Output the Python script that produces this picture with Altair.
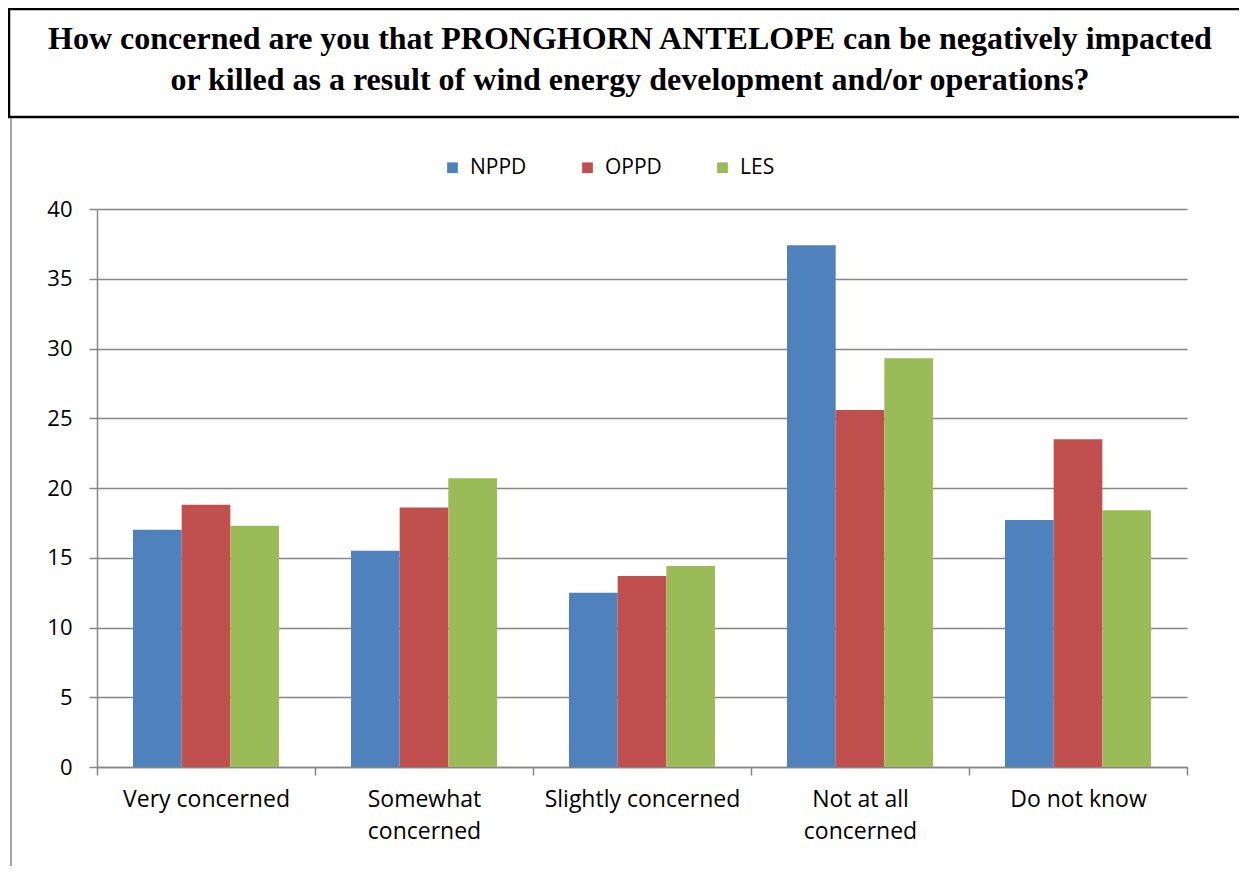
import altair as alt
import pandas as pd

categories = ["Very concerned", "Somewhat concerned", "Slightly concerned",
              "Not at all concerned", "Do not know"]
series = ["NPPD", "OPPD", "LES"]
nppd = [17.0, 15.5, 12.5, 37.4, 17.7]
oppd = [18.8, 18.6, 13.7, 25.6, 23.5]
les = [17.3, 20.7, 14.4, 29.3, 18.4]
colors = ["#4F81BD", "#C0504D", "#9BBB59"]
title_lines = ["How concerned are you that PRONGHORN ANTELOPE can be negatively impacted",
               "or killed as a result of wind energy development and/or operations?"]
y_ticks = [0, 5, 10, 15, 20, 25, 30, 35, 40]

rows = []
for name, vals in zip(series, [nppd, oppd, les]):
    for c, v in zip(categories, vals):
        rows.append({"category": c, "series": name, "value": v})
df = pd.DataFrame(rows)

label_expr = ("datum.value == 'Somewhat concerned' ? ['Somewhat', 'concerned'] : "
              "datum.value == 'Not at all concerned' ? ['Not at all', 'concerned'] : datum.value")

bars = alt.Chart(df).mark_bar().encode(
    x=alt.X("category:N", sort=categories, title=None,
            scale=alt.Scale(paddingInner=0, paddingOuter=0),
            axis=alt.Axis(labelAngle=0, labelExpr=label_expr, tickBand="extent",
                          labelFont="Open Sans", labelFontSize=23, labelColor="#000",
                          labelLineHeight=32, labelPadding=13, labelLimit=400, tickSize=8,
                          tickColor="#868686", domainColor="#868686", domainWidth=1.5,
                          tickWidth=1.5, grid=False)),
    xOffset=alt.XOffset("series:N", sort=series,
                        scale=alt.Scale(paddingInner=0, paddingOuter=0.74)),
    y=alt.Y("value:Q", title=None,
            scale=alt.Scale(domain=[0, 40], nice=False),
            axis=alt.Axis(values=y_ticks, labelFont="Open Sans", labelFontSize=22,
                          labelColor="#000", labelPadding=17, tickSize=8,
                          tickColor="#868686", domainColor="#868686", domainWidth=1.5,
                          tickWidth=1.5, gridColor="#868686", gridWidth=1.5)),
    color=alt.Color("series:N", sort=series,
                    scale=alt.Scale(domain=series, range=colors),
                    legend=alt.Legend(title=None, orient="none", direction="horizontal",
                                      legendX=345, legendY=-52, symbolType="square",
                                      symbolSize=115, symbolStrokeWidth=0,
                                      labelFont="Open Sans", labelFontSize=21,
                                      labelColor="#000", labelOffset=7,
                                      columnPadding=50, padding=0)),
)

one = pd.DataFrame({"k": [0]})
box = alt.Chart(one).mark_rect(fill="transparent", stroke="#000", strokeWidth=2.5).encode(
    x=alt.value(-88), x2=alt.value(1170), y=alt.value(-200), y2=alt.value(-92))
border = alt.Chart(one).mark_rule(color="#8a8a8a", strokeWidth=1.5).encode(
    x=alt.value(-86), y=alt.value(-91), y2=alt.value(670))
t1 = alt.Chart(one).mark_text(font="Liberation Serif", fontWeight="bold", fontSize=32,
                              color="#000", baseline="middle", align="center").encode(
    x=alt.value(533), y=alt.value(-170), text=alt.value(title_lines[0]))
t2 = alt.Chart(one).mark_text(font="Liberation Serif", fontWeight="bold", fontSize=32,
                              color="#000", baseline="middle", align="center").encode(
    x=alt.value(533), y=alt.value(-129), text=alt.value(title_lines[1]))

chart = alt.layer(bars, box, border, t1, t2).properties(
    width=1090, height=558,
    padding={"left": 89, "top": 201, "right": 52, "bottom": 99},
    autosize=alt.AutoSizeParams(type="none"),
).configure_view(stroke=None)

chart.save("out.html", embed_options={"renderer": "svg", "actions": False})
